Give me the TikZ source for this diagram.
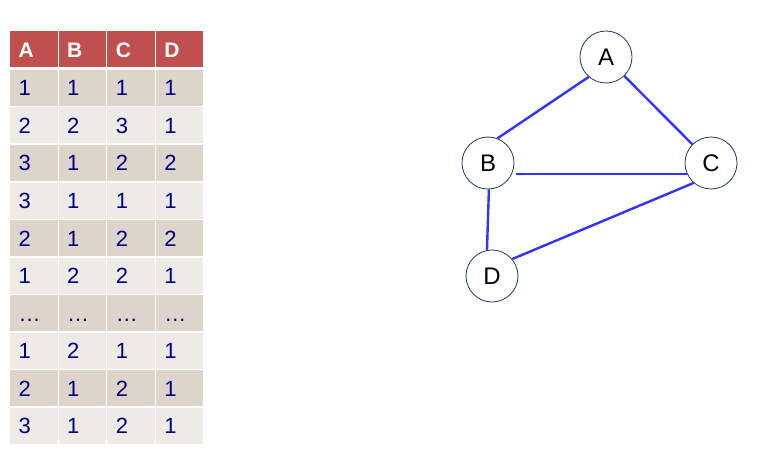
\documentclass[tikz,border=0pt]{standalone}
\usepackage{fontspec}
\setmainfont{Liberation Sans}
\definecolor{headred}{HTML}{C0504D}
\definecolor{rowdark}{HTML}{DDD5CC}
\definecolor{rowlight}{HTML}{EEEBE7}
\definecolor{numblue}{HTML}{000080}
\definecolor{edgeblue}{HTML}{3333FF}
\definecolor{ringblue}{HTML}{1F3864}

\begin{document}
\begin{tikzpicture}[x=1pt,y=-1pt,
    vertex/.style={circle,draw=ringblue,line width=0.8pt,fill=white,minimum size=52pt,inner sep=0pt,font=\fontsize{24}{28}\selectfont},
    link/.style={edgeblue,line width=2.4pt},
    cell/.style={anchor=base west,inner sep=0pt,text=numblue,font=\fontsize{22}{26}\selectfont},
    headcell/.style={cell,text=white,font=\bfseries\fontsize{21}{25}\selectfont}]
  \useasboundingbox (0,0) rectangle (762,457);
  \foreach \c [count=\i from 0] in {A,B,C,D} {
    \fill[headred] (10+48.6*\i,31) rectangle ++(47.6,36);
    \node[headcell] (h\c) at (18.4+48.6*\i,58) {\c};
  }
  \foreach \row [count=\j from 0] in {{1,1,1,1},{2,2,3,1},{3,1,2,2},{3,1,1,1},{2,1,2,2},{1,2,2,1},{…,…,…,…},{1,2,1,1},{2,1,2,1},{3,1,2,1}} {
    \ifodd\j \def\rowcol{rowlight}\else \def\rowcol{rowdark}\fi
    \foreach \v [count=\i from 0] in \row {
      \fill[\rowcol] (10+48.6*\i,70+37.5*\j) rectangle ++(47.6,36);
      \node[cell] (c\j\i) at (18.4+48.6*\i,96+37.5*\j) {\v};
    }
  }
  \node[vertex] (A) at (606,57) {A};
  \node[vertex] (B) at (488,163) {B};
  \node[vertex] (C) at (711,163) {C};
  \node[vertex] (D) at (492,276) {D};
  \draw[link] (A.229) -- (B.69);
  \draw[link] (A.-46) -- (C.135);
  \draw[link] ([xshift=4pt]B.-25) -- (C.205);
  \draw[link] (B.-88) -- (D.101);
  \draw[link] (D.40) -- (C.229);
\end{tikzpicture}
\end{document}
